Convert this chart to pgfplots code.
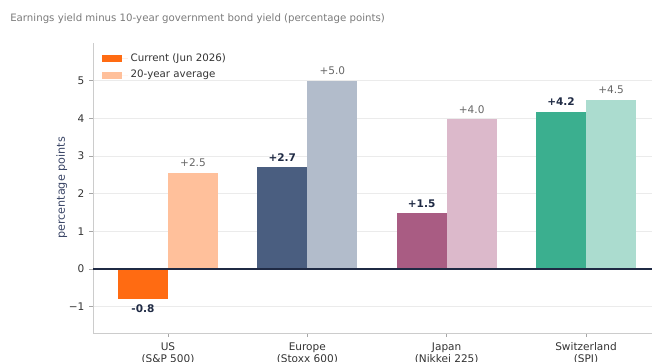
\documentclass[border=0pt]{standalone}
\usepackage{pgfplots}
\pgfplotsset{compat=1.18}
\usepackage{fontspec}
\setmainfont{DejaVu Sans}
\definecolor{usC}{HTML}{FF6B12}
\definecolor{usA}{HTML}{FFC09B}
\definecolor{euC}{HTML}{4A5E80}
\definecolor{euA}{HTML}{B2BCCB}
\definecolor{jpC}{HTML}{A95C83}
\definecolor{jpA}{HTML}{DCB9CB}
\definecolor{chC}{HTML}{3BAF8F}
\definecolor{chA}{HTML}{ABDCCF}
\definecolor{navy}{HTML}{1F2A44}
\definecolor{avgtxt}{HTML}{666666}
\definecolor{titlegray}{HTML}{7A7A7A}
\definecolor{tickcol}{HTML}{333333}
\definecolor{ylab}{HTML}{3A4566}
\definecolor{gridgray}{HTML}{EBEBEB}
\definecolor{spinegray}{HTML}{CCCCCC}
\begin{document}
\begin{tikzpicture}[x=0.75pt,y=0.75pt]
\useasboundingbox (0,0) rectangle (652,361);
\clip (0,0) rectangle (652,361);
\node[anchor=west, font=\fontsize{7.65}{9}\selectfont, text=titlegray, inner sep=0] at (10,342.7) {Earnings yield minus 10-year government bond yield (percentage points)};
\begin{axis}[
  at={(69.75pt,21pt)}, anchor=south west,
  scale only axis, width=421.5pt, height=217.5pt,
  xmin=-0.538, xmax=3.495, ymin=-1.7, ymax=6.0,
  xtick={0,1,2,3},
  xticklabels={{US\\(S\&P 500)},{Europe\\(Stoxx 600)},{Japan\\(Nikkei 225)},{Switzerland\\(SPI)}},
  xticklabel style={align=center, font=\fontsize{7.9}{9.2}\selectfont, text=tickcol, yshift=-0.6pt},
  ytick={-1,0,1,2,3,4,5},
  yticklabels={−1,0,1,2,3,4,5},
  yticklabel style={font=\fontsize{7.9}{9}\selectfont, text=tickcol},
  ymajorgrids, grid style={color=gridgray, line width=0.6pt},
  axis x line*=bottom, axis y line*=left,
  x axis line style={draw=spinegray, -, line width=0.6pt},
  y axis line style={draw=spinegray, -, line width=0.6pt},
  tick style={color=gray!70, line width=0.6pt}, tick align=outside, major tick length=3pt,
  ylabel={percentage points},
  ylabel style={at={(axis description cs:-0.0557,0.5)}, anchor=center, font=\fontsize{8.4}{9}\selectfont, text=ylab},
  clip=false,
  legend style={at={(0.0084,0.982)}, anchor=north west, draw=none, fill=none,
    font=\fontsize{7.7}{9}\selectfont, text=tickcol, row sep=1pt},
  legend cell align=left,
  legend image code/.code={\fill[#1] (0pt,-2.6pt) rectangle (15pt,2.6pt); \path (0pt,0pt) -- (19.5pt,0pt);},
  mybar/.style={ybar, bar width=0.359, bar shift=0, draw=none},
  curlab/.style={nodes near coords={\textbf{#1}}, every node near coord/.append style={font=\fontsize{7.9}{9}\selectfont, text=navy, anchor=south, yshift=1pt}},
  avglab/.style={nodes near coords={#1}, every node near coord/.append style={font=\fontsize{7.9}{9}\selectfont, text=avgtxt, anchor=south, yshift=1pt}},
]
\addplot[mybar, fill=usC, nodes near coords={\textbf{-0.8}}, every node near coord/.append style={font=\fontsize{7.9}{9}\selectfont, text=navy, anchor=north, yshift=-1pt}] coordinates {(-0.1795,-0.8)};
\addplot[mybar, fill=usA, avglab={+2.5}] coordinates {(0.1795,2.55)};
\legend{Current (Jun 2026),20-year average}
\addplot[mybar, fill=euC, curlab={+2.7}, forget plot] coordinates {(0.8205,2.7)};
\addplot[mybar, fill=euA, avglab={+5.0}, forget plot] coordinates {(1.1795,5.0)};
\addplot[mybar, fill=jpC, curlab={+1.5}, forget plot] coordinates {(1.8205,1.48)};
\addplot[mybar, fill=jpA, avglab={+4.0}, forget plot] coordinates {(2.1795,3.97)};
\addplot[mybar, fill=chC, curlab={+4.2}, forget plot] coordinates {(2.8205,4.18)};
\addplot[mybar, fill=chA, avglab={+4.5}, forget plot] coordinates {(3.1795,4.5)};
\addplot[navy, line width=1pt, forget plot] coordinates {(-0.538,0) (3.495,0)};
\end{axis}
\end{tikzpicture}
\end{document}
